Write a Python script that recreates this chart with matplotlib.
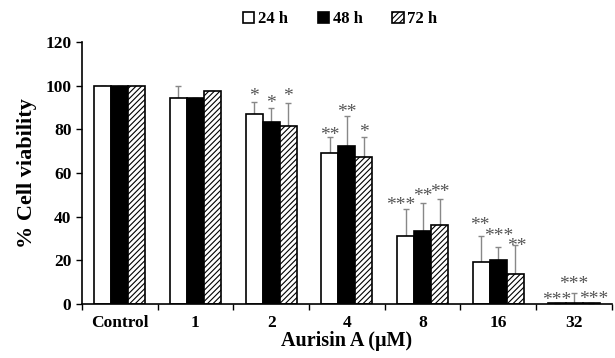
import matplotlib
matplotlib.use("Agg")
import matplotlib.pyplot as plt
import numpy as np

plt.rcParams['font.family'] = ['Liberation Serif', 'DejaVu Serif']
plt.rcParams['font.weight'] = 'bold'
plt.rcParams['hatch.color'] = '#555555'
plt.rcParams['hatch.linewidth'] = 0.8

categories = ["Control", "1", "2", "4", "8", "16", "32"]
series_names = ["24 h", "48 h", "72 h"]
v24 = [100, 94.2, 86.8, 69.2, 31.1, 19.2, 0.3]
v48 = [100, 94.3, 83.4, 72.4, 33.3, 19.9, 0.3]
v72 = [100, 97.6, 81.3, 67.5, 36.3, 13.9, 0.3]
e24 = [0, 5.5, 5.6, 7.2, 12.4, 11.9, 0]
e48 = [0, 0, 6.2, 13.5, 12.8, 6.3, 4.9]
e72 = [0, 0, 10.7, 8.8, 11.7, 13.1, 0]
s24 = ["", "", "*", "**", "***", "**", "***"]
s48 = ["", "", "*", "**", "**", "***", "***"]
s72 = ["", "", "*", "*", "**", "**", "***"]
yticks = [0, 20, 40, 60, 80, 100, 120]

fig = plt.figure(figsize=(6.15, 3.58), dpi=100)
ax = fig.add_axes([0.133, 0.151, 0.862, 0.732])

x = np.arange(len(categories))
w = 0.225
vals = [v24, v48, v72]
errs = [e24, e48, e72]
stars = [s24, s48, s72]
faces = ['white', 'black', 'white']
hatches = [None, None, '//////']
offs = [-w, 0, w]
handles = []
for i in range(3):
    b = ax.bar(x + offs[i], vals[i], width=w, color=faces[i], edgecolor='black',
               linewidth=1.2, hatch=hatches[i], label=series_names[i], zorder=2)
    handles.append(b)
    ax.errorbar(x + offs[i], vals[i], yerr=[np.zeros(len(x)), errs[i]], fmt='none',
                ecolor='#888888', elinewidth=1.0, capsize=2.5, capthick=1.0, zorder=1)

# star annotations (offsets relative to bar tops + errors)
xshift = [[0, 0, 0, 0, -0.06, -0.02, 0.0], [0, 0, 0, 0, 0, 0, 0.0], [0, 0, 0, 0, 0, 0.02, 0.04]]
yshift = [[0, 0, -1.5, -3.0, -2.5, 0.8, -2.5], [0, 0, -1.5, -2.0, -1.0, 1.0, 0.0], [0, 0, -1.0, -1.5, -0.8, -4.5, -2.0]]
for i in range(3):
    for j in range(len(x)):
        if stars[i][j]:
            ax.text(x[j] + offs[i] + xshift[i][j], vals[i][j] + errs[i][j] + yshift[i][j],
                    stars[i][j], ha='center', va='bottom', fontsize=14,
                    color='#555555', fontweight='normal', zorder=3)

ax.set_xlim(-0.5, len(x) - 0.5)
ax.set_ylim(0, 120)
ax.set_yticks(yticks)
ax.set_yticklabels([str(t) for t in yticks])
ax.set_xticks(x)
ax.set_xticklabels(categories)
ax.tick_params(axis='x', length=0, pad=8, labelsize=12.5)
ax.set_xticks(np.arange(len(x) + 1) - 0.5, minor=True)
ax.tick_params(axis='x', which='minor', length=4, direction='out', width=1)
ax.tick_params(axis='y', length=4, width=1, labelsize=12.5)
for lab in ax.get_xticklabels() + ax.get_yticklabels():
    lab.set_fontweight('bold')
ax.spines['top'].set_visible(False)
ax.spines['right'].set_visible(False)
ax.spines['left'].set_linewidth(1.2)
ax.spines['bottom'].set_linewidth(1.2)
ax.set_ylabel("% Cell viability", fontsize=16, fontweight='bold', labelpad=6)
ax.set_xlabel("Aurisin A (μM)", fontsize=14.5, fontweight='bold', labelpad=0)

leg = fig.legend(handles=handles, labels=series_names, loc='upper center',
                 bbox_to_anchor=(0.553, 1.01), ncol=3, frameon=False,
                 prop={'weight': 'bold', 'size': 12}, handlelength=0.7,
                 handleheight=0.7, handletextpad=0.2, columnspacing=1.8)

fig.savefig("out.png", dpi=100)
